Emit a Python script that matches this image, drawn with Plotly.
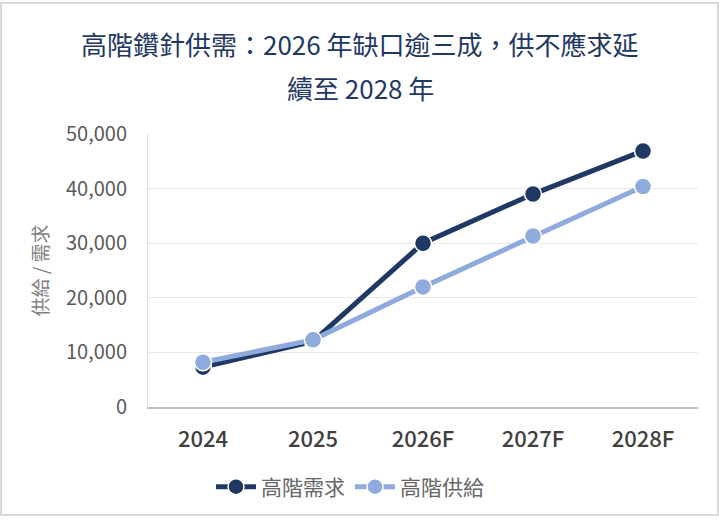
import plotly.graph_objects as go

# 資料
years = ["2024", "2025", "2026F", "2027F", "2028F"]
demand = [7300, 12000, 30000, 39000, 46900]
supply = [8200, 12300, 22000, 31300, 40400]
y_ticks = [0, 10000, 20000, 30000, 40000, 50000]

font_family = "Noto Sans CJK TC"
navy = "#1f3864"
light = "#8faadc"

fig = go.Figure()
fig.add_trace(go.Scatter(
    x=years, y=demand, mode="lines+markers", name="高階需求",
    line=dict(color=navy, width=5),
    marker=dict(size=17, color=navy, line=dict(color="white", width=1.5)),
))
fig.add_trace(go.Scatter(
    x=years, y=supply, mode="lines+markers", name="高階供給",
    line=dict(color=light, width=5),
    marker=dict(size=17, color=light, line=dict(color="white", width=1.5)),
))

W, H = 719, 520
ml, mr, mt, mb = 148, 21, 134, 113
pw = W - ml - mr
ph = H - mt - mb

fig.update_layout(
    width=W, height=H,
    margin=dict(l=ml, r=mr, t=mt, b=mb),
    paper_bgcolor="white", plot_bgcolor="white",
    font=dict(family=font_family, color="#595959"),
    showlegend=True,
    legend=dict(
        orientation="h", x=(350 - ml) / pw, xanchor="center",
        y=-(487 - (H - mb)) / ph, yanchor="middle",
        font=dict(size=21, color="#666666"),
        itemwidth=40, tracegroupgap=0,
    ),
)

fig.add_annotation(
    text="高階鑽針供需：2026 年缺口逾三成，供不應求延",
    xref="paper", yref="paper", x=(360 - ml) / pw, y=1 + (mt - 43) / ph,
    xanchor="center", yanchor="middle", showarrow=False,
    font=dict(size=26, color=navy),
)
fig.add_annotation(
    text="續至 2028 年",
    xref="paper", yref="paper", x=(360 - ml) / pw, y=1 + (mt - 88) / ph,
    xanchor="center", yanchor="middle", showarrow=False,
    font=dict(size=26, color=navy),
)

fig.update_xaxes(
    range=[-0.5, 4.5],
    showgrid=False, showline=True, linecolor="#bfbfbf", linewidth=1.5,
    ticks="", tickfont=dict(size=22, color="#404040", weight=500),
    ticklabelstandoff=12,
)
fig.update_yaxes(
    range=[0, 50000], tickvals=y_ticks, tickformat=",",
    showgrid=True, gridcolor="#e8e8e8", gridwidth=1,
    showline=True, linecolor="#e0e0e0", linewidth=1,
    zeroline=False, ticks="", ticklabelstandoff=16,
    tickfont=dict(size=20, color="#595959"),
    title=dict(text="供給 / 需求", font=dict(size=19, color="#7f7f7f"), standoff=12),
)

# 外框
fig.add_shape(
    type="rect", xref="paper", yref="paper",
    x0=-(ml - 1) / pw, x1=1 + (mr - 1) / pw,
    y0=-(mb - 5) / ph, y1=1 + (mt - 3) / ph,
    line=dict(color="#d9d9d9", width=2), layer="below",
)

fig.write_html(
    "out.html",
    config={"displayModeBar": False},
    post_script="document.body.style.margin='0';document.body.style.overflow='hidden';",
)
